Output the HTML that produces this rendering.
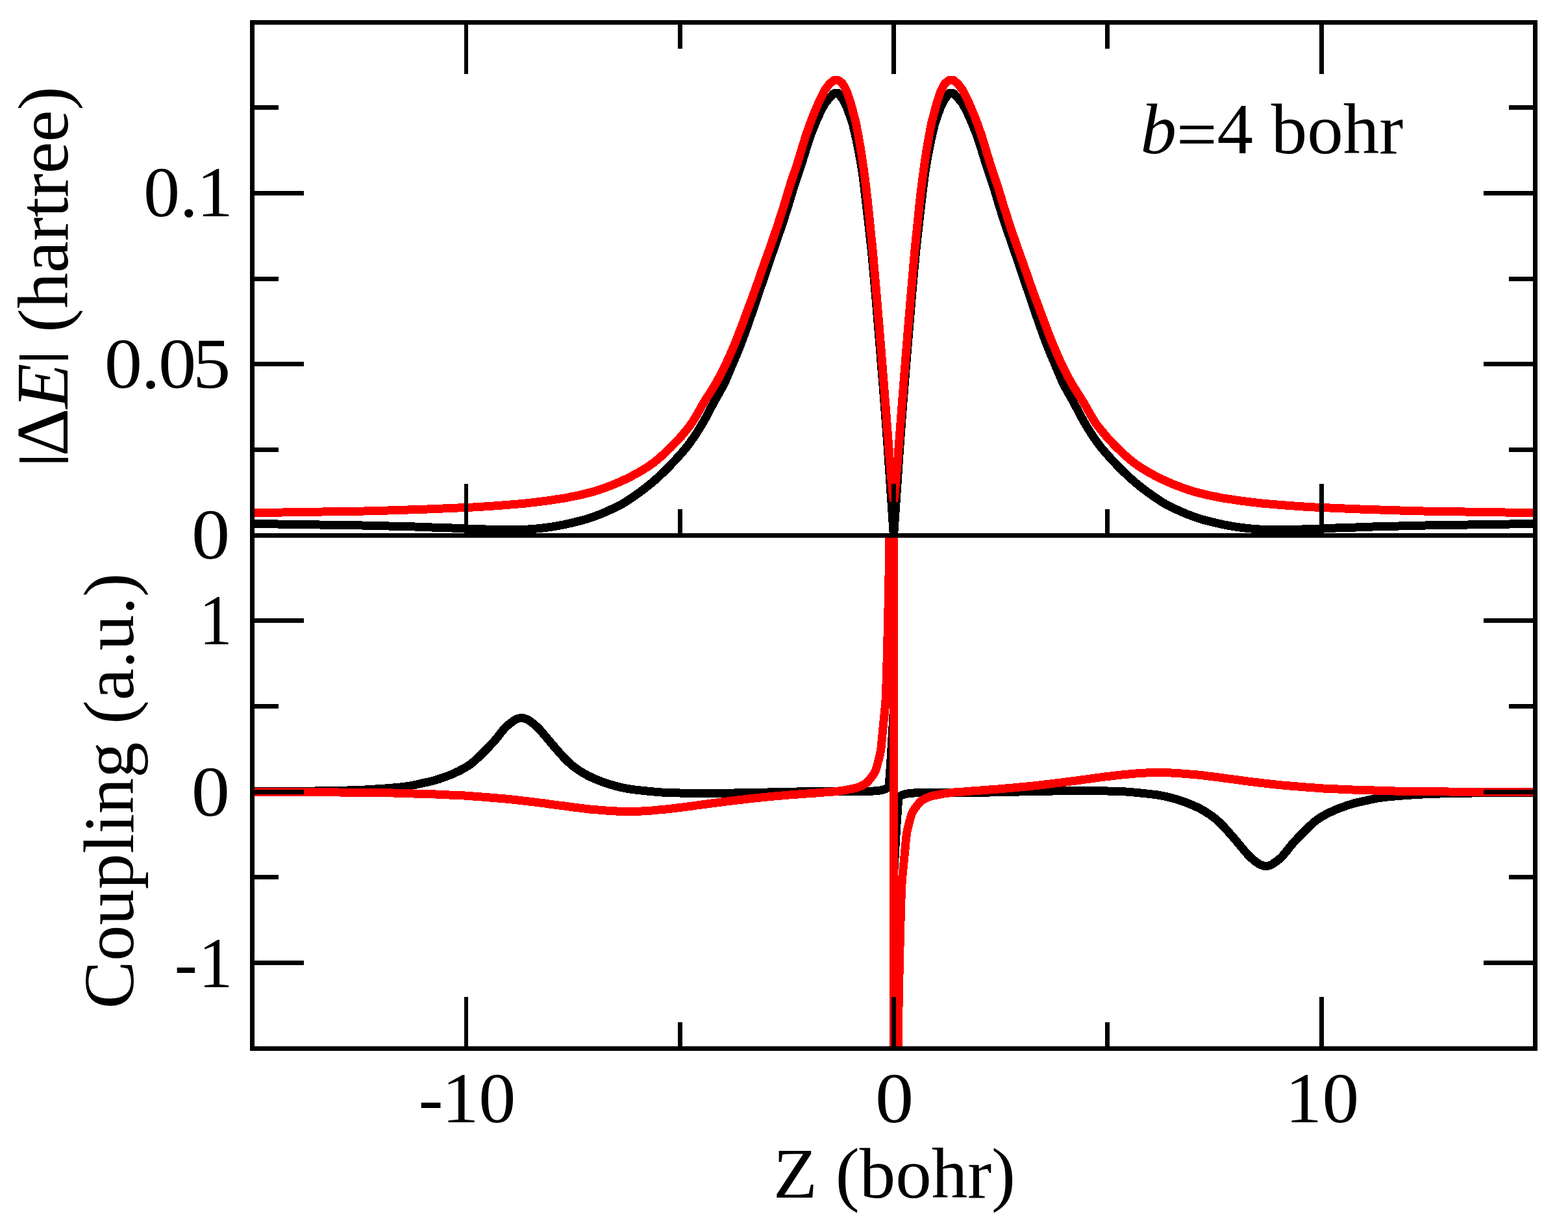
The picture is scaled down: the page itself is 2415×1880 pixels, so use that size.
<!DOCTYPE html>
<html lang="en">
<head>
<meta charset="utf-8">
<title>Energy gap and coupling, b=4 bohr</title>
<style>
html,body{margin:0;padding:0;background:#fff;}
body{width:2415px;height:1880px;overflow:hidden;}
svg{display:block;}
text{font-family:"Liberation Serif",serif;fill:#000;}
.c{fill:none;stroke-width:13;stroke-linejoin:round;stroke-linecap:butt;}
.ax{stroke:#000;stroke-width:7;fill:none;shape-rendering:crispEdges;}
</style>
</head>
<body>
<svg width="2415" height="1880" viewBox="0 0 2415 1880">
<rect width="2415" height="1880" fill="#fff"/>
<defs>
<clipPath id="cu"><rect x="388.5" y="34.5" width="1976.0" height="790.0"/></clipPath>
<clipPath id="cl"><rect x="388.5" y="824.5" width="1976.0" height="790.0"/></clipPath>
</defs>
<g clip-path="url(#cl)" shape-rendering="crispEdges">
<path class="c" stroke="#000" d="M380.00,1218.50C384.00,1218.50 388.00,1218.50 392.00,1218.50C408.00,1218.50 424.00,1218.45 440.00,1218.40C454.93,1218.35 469.87,1218.18 484.80,1218.00C501.47,1217.80 518.14,1217.44 534.80,1217.00C543.90,1216.76 553.01,1216.42 562.10,1216.00C567.67,1215.74 573.24,1215.36 578.80,1215.00C583.57,1214.69 588.34,1214.36 593.10,1214.00C597.07,1213.70 601.04,1213.37 605.00,1213.03C608.57,1212.72 612.14,1212.42 615.70,1212.05C618.47,1211.76 621.24,1211.42 624.00,1211.07C626.40,1210.77 628.81,1210.48 631.20,1210.10C637.11,1209.15 642.94,1207.60 648.80,1206.30C655.11,1204.90 661.48,1203.67 667.70,1202.00C674.04,1200.30 680.34,1198.17 686.50,1195.90C692.87,1193.55 699.22,1190.88 705.30,1187.90C711.75,1184.73 718.30,1181.21 724.10,1177.10C730.90,1172.28 736.93,1165.99 743.00,1160.10C749.50,1153.79 755.75,1147.15 761.80,1140.40C768.29,1133.15 773.59,1124.54 780.60,1118.00C783.45,1115.34 786.74,1112.93 790.00,1110.70C791.93,1109.38 793.86,1107.70 796.00,1107.00C798.26,1106.26 800.87,1105.45 803.30,1105.45C805.87,1105.45 808.61,1106.46 811.00,1107.30C814.22,1108.43 817.18,1110.90 820.00,1113.00C823.56,1115.65 826.87,1118.82 830.00,1122.00C833.55,1125.60 836.71,1129.63 840.00,1133.50C843.37,1137.46 846.63,1141.54 850.00,1145.50C853.29,1149.37 856.63,1153.20 860.00,1157.00C863.29,1160.70 866.54,1164.47 870.00,1168.00C873.21,1171.28 876.50,1174.55 880.00,1177.50C883.17,1180.17 886.57,1182.65 890.00,1185.00C893.24,1187.22 896.59,1189.35 900.00,1191.30C903.25,1193.16 906.61,1194.92 910.00,1196.50C916.52,1199.54 923.21,1202.39 930.00,1204.75C936.55,1207.03 943.26,1209.07 950.00,1210.75C956.60,1212.39 963.28,1213.98 970.00,1215.00C972.65,1215.40 975.33,1215.69 978.00,1216.00C983.19,1216.61 988.40,1217.17 993.60,1217.70C997.73,1218.12 1001.86,1218.53 1006.00,1218.90C1010.33,1219.29 1014.66,1219.77 1019.00,1220.00C1028.98,1220.52 1039.00,1220.85 1049.00,1221.05C1062.66,1221.32 1076.33,1221.60 1090.00,1221.60C1103.50,1221.60 1117.00,1221.25 1130.50,1221.03C1147.33,1220.75 1164.17,1220.39 1181.00,1220.03C1195.33,1219.72 1209.67,1219.23 1224.00,1219.03C1242.66,1218.77 1261.33,1218.50 1280.00,1218.50C1299.00,1218.50 1318.02,1218.50 1337.00,1218.50C1339.84,1218.50 1342.67,1218.21 1345.50,1218.00C1348.77,1217.76 1352.07,1217.47 1355.30,1217.00C1356.85,1216.78 1358.39,1216.40 1359.90,1216.00C1361.29,1215.63 1362.73,1215.20 1364.00,1214.60C1365.18,1214.04 1366.57,1213.24 1367.30,1212.30C1368.06,1211.33 1368.73,1209.82 1369.00,1208.50C1369.37,1206.68 1369.52,1204.70 1369.70,1202.80C1370.09,1198.55 1370.30,1194.27 1370.60,1190.00C1371.07,1183.33 1371.57,1176.67 1372.00,1170.00C1372.83,1157.01 1373.51,1144.00 1374.26,1131.00C1375.01,1118.00 1375.76,1105.00 1376.50,1092.00L1376.50,1347.00C1377.24,1334.00 1377.99,1321.00 1378.74,1308.00C1379.49,1295.00 1380.17,1281.99 1381.00,1269.00C1381.43,1262.33 1381.93,1255.67 1382.40,1249.00C1382.70,1244.73 1382.91,1240.45 1383.30,1236.20C1383.48,1234.30 1383.63,1232.32 1384.00,1230.50C1384.27,1229.18 1384.94,1227.67 1385.70,1226.70C1386.43,1225.76 1387.82,1224.96 1389.00,1224.40C1390.27,1223.80 1391.71,1223.37 1393.10,1223.00C1394.61,1222.60 1396.15,1222.22 1397.70,1222.00C1400.93,1221.53 1404.23,1221.24 1407.50,1221.00C1410.33,1220.79 1413.16,1220.50 1416.00,1220.50C1434.98,1220.50 1454.00,1220.50 1473.00,1220.50C1491.67,1220.50 1510.34,1220.23 1529.00,1219.97C1543.33,1219.77 1557.67,1219.28 1572.00,1218.97C1588.83,1218.61 1605.67,1218.25 1622.50,1217.97C1636.00,1217.75 1649.50,1217.40 1663.00,1217.40C1676.67,1217.40 1690.34,1217.68 1704.00,1217.95C1714.00,1218.15 1724.02,1218.48 1734.00,1219.00C1738.34,1219.23 1742.67,1219.71 1747.00,1220.10C1751.14,1220.47 1755.27,1220.88 1759.40,1221.30C1764.60,1221.83 1769.81,1222.39 1775.00,1223.00C1777.67,1223.31 1780.35,1223.60 1783.00,1224.00C1789.72,1225.02 1796.40,1226.61 1803.00,1228.25C1809.74,1229.93 1816.45,1231.97 1823.00,1234.25C1829.79,1236.61 1836.48,1239.46 1843.00,1242.50C1846.39,1244.08 1849.75,1245.84 1853.00,1247.70C1856.41,1249.65 1859.76,1251.78 1863.00,1254.00C1866.43,1256.35 1869.83,1258.83 1873.00,1261.50C1876.50,1264.45 1879.79,1267.72 1883.00,1271.00C1886.46,1274.53 1889.71,1278.30 1893.00,1282.00C1896.37,1285.80 1899.71,1289.63 1903.00,1293.50C1906.37,1297.46 1909.63,1301.54 1913.00,1305.50C1916.29,1309.37 1919.45,1313.40 1923.00,1317.00C1926.13,1320.18 1929.44,1323.35 1933.00,1326.00C1935.82,1328.10 1938.78,1330.57 1942.00,1331.70C1944.39,1332.54 1947.13,1333.55 1949.70,1333.55C1952.13,1333.55 1954.74,1332.74 1957.00,1332.00C1959.14,1331.30 1961.07,1329.62 1963.00,1328.30C1966.26,1326.07 1969.55,1323.66 1972.40,1321.00C1979.41,1314.46 1984.71,1305.85 1991.20,1298.60C1997.25,1291.85 2003.50,1285.21 2010.00,1278.90C2016.07,1273.01 2022.10,1266.72 2028.90,1261.90C2034.70,1257.79 2041.25,1254.27 2047.70,1251.10C2053.78,1248.12 2060.13,1245.45 2066.50,1243.10C2072.66,1240.83 2078.96,1238.70 2085.30,1237.00C2091.52,1235.33 2097.89,1234.10 2104.20,1232.70C2110.06,1231.40 2115.89,1229.85 2121.80,1228.90C2124.19,1228.52 2126.60,1228.23 2129.00,1227.93C2131.76,1227.58 2134.53,1227.24 2137.30,1226.95C2140.86,1226.58 2144.43,1226.28 2148.00,1225.97C2151.96,1225.63 2155.93,1225.30 2159.90,1225.00C2164.66,1224.64 2169.43,1224.31 2174.20,1224.00C2179.76,1223.64 2185.33,1223.26 2190.90,1223.00C2199.99,1222.58 2209.10,1222.24 2218.20,1222.00C2234.86,1221.56 2251.53,1221.20 2268.20,1221.00C2283.13,1220.82 2298.07,1220.65 2313.00,1220.60C2329.00,1220.55 2345.00,1220.50 2361.00,1220.50C2365.00,1220.50 2369.00,1220.50 2373.00,1220.50"/>
<path class="c" stroke="#f00" d="M380.00,1219.50C384.00,1219.50 388.00,1219.50 392.00,1219.50C414.67,1219.50 437.33,1219.55 460.00,1219.60C480.77,1219.65 501.53,1219.83 522.30,1220.00C549.87,1220.23 577.44,1220.49 605.00,1221.00C615.67,1221.20 626.33,1221.67 637.00,1222.00C648.17,1222.34 659.34,1222.59 670.50,1223.00C677.70,1223.27 684.90,1223.68 692.10,1224.00C699.80,1224.34 707.51,1224.57 715.20,1225.00C719.60,1225.25 724.00,1225.67 728.40,1226.00C732.93,1226.34 737.47,1226.65 742.00,1227.00C746.10,1227.32 750.20,1227.67 754.30,1228.00C758.37,1228.33 762.43,1228.66 766.50,1229.00C770.43,1229.33 774.37,1229.64 778.30,1230.00C781.60,1230.31 784.90,1230.66 788.20,1231.00C791.30,1231.32 794.40,1231.65 797.50,1232.00C800.33,1232.32 803.17,1232.67 806.00,1233.00C808.83,1233.33 811.67,1233.67 814.50,1234.00C817.33,1234.33 820.17,1234.66 823.00,1235.00C825.67,1235.32 828.33,1235.67 831.00,1236.00C833.67,1236.33 836.34,1236.63 839.00,1237.00C841.17,1237.30 843.33,1237.69 845.50,1238.00C848.00,1238.36 850.50,1238.68 853.00,1239.00C855.67,1239.34 858.33,1239.67 861.00,1240.00C863.67,1240.33 866.34,1240.64 869.00,1241.00C871.34,1241.31 873.67,1241.68 876.00,1242.00C878.50,1242.34 881.00,1242.69 883.50,1243.00C886.33,1243.35 889.17,1243.66 892.00,1244.00C894.67,1244.32 897.33,1244.68 900.00,1245.00C902.83,1245.34 905.66,1245.73 908.50,1246.00C912.66,1246.40 916.83,1246.66 921.00,1247.00C925.00,1247.33 929.00,1247.72 933.00,1248.00C938.66,1248.40 944.33,1248.84 950.00,1249.03C956.16,1249.23 962.33,1249.45 968.50,1249.45C974.67,1249.45 980.84,1249.23 987.00,1249.03C992.57,1248.85 998.14,1248.45 1003.70,1248.03C1007.07,1247.77 1010.43,1247.35 1013.80,1247.03C1017.56,1246.68 1021.34,1246.40 1025.10,1246.03C1028.07,1245.74 1031.03,1245.38 1034.00,1245.04C1036.80,1244.72 1039.60,1244.38 1042.40,1244.04C1045.17,1243.71 1047.93,1243.38 1050.70,1243.04C1053.30,1242.72 1055.90,1242.38 1058.50,1242.05C1061.07,1241.72 1063.64,1241.41 1066.20,1241.05C1068.37,1240.74 1070.53,1240.35 1072.70,1240.05C1075.30,1239.69 1077.90,1239.39 1080.50,1239.05C1083.07,1238.72 1085.63,1238.39 1088.20,1238.05C1090.60,1237.73 1093.00,1237.37 1095.40,1237.05C1097.97,1236.71 1100.53,1236.38 1103.10,1236.05C1105.67,1235.72 1108.23,1235.38 1110.80,1235.05C1113.40,1234.71 1116.00,1234.36 1118.60,1234.05C1121.56,1233.69 1124.54,1233.41 1127.50,1233.05C1130.07,1232.74 1132.63,1232.36 1135.20,1232.05C1138.20,1231.69 1141.20,1231.41 1144.20,1231.05C1146.77,1230.74 1149.33,1230.36 1151.90,1230.05C1154.86,1229.69 1157.83,1229.35 1160.80,1229.05C1164.46,1228.68 1168.13,1228.38 1171.80,1228.03C1175.17,1227.71 1178.53,1227.36 1181.90,1227.03C1185.27,1226.70 1188.63,1226.34 1192.00,1226.03C1195.96,1225.67 1199.93,1225.38 1203.90,1225.03C1207.57,1224.71 1211.23,1224.33 1214.90,1224.03C1219.53,1223.66 1224.17,1223.37 1228.80,1223.03C1233.20,1222.71 1237.60,1222.35 1242.00,1222.03C1246.67,1221.69 1251.34,1221.39 1256.00,1221.04C1260.13,1220.73 1264.26,1220.34 1268.40,1220.04C1273.43,1219.67 1278.48,1219.49 1283.50,1219.04C1286.11,1218.81 1288.70,1218.38 1291.30,1218.05C1293.87,1217.72 1296.45,1217.47 1299.00,1217.07C1300.63,1216.81 1302.23,1216.41 1303.85,1216.10C1305.53,1215.77 1307.22,1215.47 1308.90,1215.15C1310.60,1214.83 1312.31,1214.56 1314.00,1214.20C1316.32,1213.71 1318.65,1213.15 1320.90,1212.45C1323.00,1211.80 1325.10,1210.95 1327.07,1210.00C1329.64,1208.76 1332.30,1207.22 1334.45,1205.45C1337.71,1202.77 1340.36,1198.97 1343.00,1195.50C1344.34,1193.73 1345.75,1191.93 1346.80,1190.00C1347.86,1188.05 1348.78,1185.92 1349.50,1183.80C1350.39,1181.20 1351.01,1178.48 1351.70,1175.80C1353.44,1169.00 1355.49,1162.21 1356.50,1155.30C1357.40,1149.10 1357.87,1142.77 1358.50,1136.50C1359.13,1130.20 1359.68,1123.90 1360.30,1117.60C1360.91,1111.33 1361.60,1105.07 1362.20,1098.80C1362.80,1092.54 1363.56,1086.28 1363.90,1080.00C1365.11,1057.71 1365.62,1035.34 1366.20,1013.00C1367.80,951.35 1369.27,889.68 1369.80,828.00L1376.50,480.00L1376.50,1959.00L1383.20,1611.00C1383.73,1549.32 1385.20,1487.65 1386.80,1426.00C1387.38,1403.66 1387.89,1381.29 1389.10,1359.00C1389.44,1352.72 1390.20,1346.46 1390.80,1340.20C1391.40,1333.93 1392.09,1327.67 1392.70,1321.40C1393.32,1315.10 1393.87,1308.80 1394.50,1302.50C1395.13,1296.23 1395.60,1289.90 1396.50,1283.70C1397.51,1276.79 1399.56,1270.00 1401.30,1263.20C1401.99,1260.52 1402.61,1257.80 1403.50,1255.20C1404.22,1253.08 1405.14,1250.95 1406.20,1249.00C1407.25,1247.07 1408.66,1245.27 1410.00,1243.50C1412.64,1240.03 1415.29,1236.23 1418.55,1233.55C1420.70,1231.78 1423.36,1230.24 1425.93,1229.00C1427.90,1228.05 1430.00,1227.20 1432.10,1226.55C1434.35,1225.85 1436.68,1225.29 1439.00,1224.80C1440.69,1224.44 1442.40,1224.17 1444.10,1223.85C1445.78,1223.53 1447.47,1223.23 1449.15,1222.90C1450.77,1222.59 1452.37,1222.19 1454.00,1221.93C1456.55,1221.53 1459.13,1221.28 1461.70,1220.95C1464.30,1220.62 1466.89,1220.19 1469.50,1219.96C1474.52,1219.51 1479.57,1219.33 1484.60,1218.96C1488.74,1218.66 1492.87,1218.27 1497.00,1217.96C1501.66,1217.61 1506.33,1217.31 1511.00,1216.97C1515.40,1216.65 1519.80,1216.29 1524.20,1215.97C1528.83,1215.63 1533.47,1215.34 1538.10,1214.97C1541.77,1214.67 1545.43,1214.29 1549.10,1213.97C1553.07,1213.62 1557.04,1213.33 1561.00,1212.97C1564.37,1212.66 1567.73,1212.30 1571.10,1211.97C1574.47,1211.64 1577.83,1211.29 1581.20,1210.97C1584.87,1210.62 1588.54,1210.32 1592.20,1209.95C1595.17,1209.65 1598.14,1209.31 1601.10,1208.95C1603.67,1208.64 1606.23,1208.26 1608.80,1207.95C1611.80,1207.59 1614.80,1207.31 1617.80,1206.95C1620.37,1206.64 1622.93,1206.26 1625.50,1205.95C1628.46,1205.59 1631.44,1205.31 1634.40,1204.95C1637.00,1204.64 1639.60,1204.29 1642.20,1203.95C1644.77,1203.62 1647.33,1203.28 1649.90,1202.95C1652.47,1202.62 1655.03,1202.29 1657.60,1201.95C1660.00,1201.63 1662.40,1201.27 1664.80,1200.95C1667.37,1200.61 1669.93,1200.28 1672.50,1199.95C1675.10,1199.61 1677.70,1199.31 1680.30,1198.95C1682.47,1198.65 1684.63,1198.26 1686.80,1197.95C1689.36,1197.59 1691.93,1197.28 1694.50,1196.95C1697.10,1196.62 1699.70,1196.28 1702.30,1195.96C1705.07,1195.62 1707.83,1195.29 1710.60,1194.96C1713.40,1194.62 1716.20,1194.28 1719.00,1193.96C1721.97,1193.62 1724.93,1193.26 1727.90,1192.97C1731.66,1192.60 1735.44,1192.32 1739.20,1191.97C1742.57,1191.65 1745.93,1191.23 1749.30,1190.97C1754.86,1190.55 1760.43,1190.15 1766.00,1189.97C1772.16,1189.77 1778.33,1189.55 1784.50,1189.55C1790.67,1189.55 1796.84,1189.77 1803.00,1189.97C1808.67,1190.16 1814.34,1190.60 1820.00,1191.00C1824.00,1191.28 1828.00,1191.67 1832.00,1192.00C1836.17,1192.34 1840.34,1192.60 1844.50,1193.00C1847.34,1193.27 1850.17,1193.66 1853.00,1194.00C1855.67,1194.32 1858.33,1194.68 1861.00,1195.00C1863.83,1195.34 1866.67,1195.65 1869.50,1196.00C1872.00,1196.31 1874.50,1196.66 1877.00,1197.00C1879.33,1197.32 1881.66,1197.69 1884.00,1198.00C1886.66,1198.36 1889.33,1198.67 1892.00,1199.00C1894.67,1199.33 1897.33,1199.66 1900.00,1200.00C1902.50,1200.32 1905.00,1200.64 1907.50,1201.00C1909.67,1201.31 1911.83,1201.70 1914.00,1202.00C1916.66,1202.37 1919.33,1202.67 1922.00,1203.00C1924.67,1203.33 1927.33,1203.68 1930.00,1204.00C1932.83,1204.34 1935.67,1204.67 1938.50,1205.00C1941.33,1205.33 1944.17,1205.67 1947.00,1206.00C1949.83,1206.33 1952.67,1206.68 1955.50,1207.00C1958.60,1207.35 1961.70,1207.68 1964.80,1208.00C1968.10,1208.34 1971.40,1208.69 1974.70,1209.00C1978.63,1209.36 1982.57,1209.67 1986.50,1210.00C1990.57,1210.34 1994.63,1210.67 1998.70,1211.00C2002.80,1211.33 2006.90,1211.68 2011.00,1212.00C2015.53,1212.35 2020.07,1212.66 2024.60,1213.00C2029.00,1213.33 2033.40,1213.75 2037.80,1214.00C2045.49,1214.43 2053.20,1214.66 2060.90,1215.00C2068.10,1215.32 2075.30,1215.73 2082.50,1216.00C2093.66,1216.41 2104.83,1216.66 2116.00,1217.00C2126.67,1217.33 2137.33,1217.80 2148.00,1218.00C2175.56,1218.51 2203.13,1218.77 2230.70,1219.00C2251.47,1219.17 2272.23,1219.35 2293.00,1219.40C2315.67,1219.45 2338.33,1219.50 2361.00,1219.50C2365.00,1219.50 2369.00,1219.50 2373.00,1219.50"/>
</g>
<g clip-path="url(#cu)" shape-rendering="crispEdges">
<path class="c" stroke="#000" d="M380.00,806.20C384.00,806.27 388.00,806.33 392.00,806.40C403.87,806.60 415.73,806.81 427.60,807.00C448.97,807.35 470.33,807.67 491.70,808.00C513.70,808.34 535.70,808.58 557.70,809.00C571.43,809.26 585.17,809.66 598.90,810.00C612.33,810.33 625.77,810.59 639.20,811.00C647.74,811.26 656.27,811.70 664.80,812.00C675.00,812.36 685.20,812.59 695.40,813.00C701.94,813.26 708.46,813.75 715.00,814.00C726.09,814.43 737.20,814.74 748.30,815.00C758.87,815.24 769.43,815.60 780.00,815.60C790.93,815.60 801.88,815.35 812.80,815.00C817.20,814.86 821.61,814.41 826.00,814.02C829.07,813.75 832.14,813.39 835.20,813.04C837.87,812.73 840.54,812.41 843.20,812.05C845.40,811.75 847.60,811.41 849.80,811.07C851.87,810.75 853.94,810.43 856.00,810.08C857.84,809.77 859.67,809.43 861.50,809.10C863.33,808.78 865.17,808.49 867.00,808.13C868.47,807.84 869.93,807.48 871.40,807.16C874.33,806.51 877.27,805.89 880.20,805.20C882.91,804.57 885.60,803.88 888.30,803.20C890.87,802.55 893.43,801.87 896.00,801.20C898.43,800.57 900.89,800.00 903.30,799.30C905.28,798.73 907.25,798.07 909.20,797.40C911.04,796.77 912.87,796.06 914.70,795.40C916.50,794.75 918.30,794.10 920.10,793.45C921.83,792.82 923.59,792.24 925.30,791.55C926.79,790.95 928.24,790.26 929.70,789.60C931.17,788.94 932.63,788.25 934.10,787.60C935.56,786.95 937.05,786.36 938.50,785.70C939.84,785.09 941.17,784.45 942.50,783.80C943.84,783.15 945.17,782.47 946.50,781.80C947.83,781.13 949.16,780.46 950.50,779.80C951.86,779.13 953.24,778.47 954.60,777.80C955.94,777.14 957.30,776.51 958.60,775.80C961.69,774.11 964.67,772.15 967.60,770.20C980.60,761.54 993.50,752.29 1005.30,742.20C1021.20,728.60 1036.16,713.19 1050.00,697.40C1054.87,691.84 1059.58,686.00 1063.90,680.00C1070.69,670.59 1076.93,660.63 1082.80,650.60C1088.64,640.64 1093.68,630.17 1099.20,620.00C1104.75,609.77 1110.98,599.85 1116.00,589.40C1119.42,582.29 1122.31,574.89 1125.40,567.60C1130.76,554.94 1136.26,542.32 1141.20,529.50C1147.13,514.12 1152.47,498.48 1157.90,482.90C1162.26,470.40 1166.45,457.84 1170.70,445.30C1174.95,432.74 1179.11,420.15 1183.40,407.60C1187.74,394.88 1192.28,382.23 1196.60,369.50C1201.86,354.00 1207.16,338.50 1212.10,322.90C1216.05,310.42 1219.55,297.78 1223.50,285.30C1227.50,272.68 1231.92,260.19 1236.00,247.60C1240.05,235.09 1243.48,222.35 1247.90,210.00C1250.32,203.25 1253.06,196.60 1255.90,190.00L1257.90,185.00L1264.50,170.50L1271.10,158.50L1277.70,150.80L1284.30,143.70L1290.90,143.40L1297.50,152.00L1304.05,164.50L1310.60,182.50L1313.15,190.00C1316.22,202.48 1319.03,215.01 1321.50,227.60C1323.95,240.11 1326.26,252.69 1328.10,265.30C1329.92,277.79 1331.29,290.36 1332.80,302.90C1334.67,318.42 1336.45,333.96 1338.20,349.50C1339.63,362.20 1341.12,374.89 1342.40,387.60C1343.67,400.16 1344.77,412.73 1345.90,425.30C1347.03,437.83 1348.13,450.36 1349.20,462.90C1350.51,478.26 1351.73,493.63 1353.00,509.00C1355.50,539.33 1358.10,569.66 1360.50,600.00C1362.61,626.66 1364.67,653.33 1366.60,680.00C1370.11,728.48 1373.46,776.98 1376.50,825.50M1376.50,825.50C1379.54,776.98 1382.89,728.48 1386.40,680.00C1388.33,653.33 1390.39,626.66 1392.50,600.00C1394.90,569.66 1397.50,539.33 1400.00,509.00C1401.27,493.63 1402.49,478.26 1403.80,462.90C1404.87,450.36 1405.97,437.83 1407.10,425.30C1408.23,412.73 1409.33,400.16 1410.60,387.60C1411.88,374.89 1413.37,362.20 1414.80,349.50C1416.55,333.96 1418.33,318.42 1420.20,302.90C1421.71,290.36 1423.08,277.79 1424.90,265.30C1426.74,252.69 1429.05,240.11 1431.50,227.60C1433.97,215.01 1436.78,202.48 1439.85,190.00L1442.40,182.50L1448.95,164.50L1455.50,152.00L1462.10,143.40L1468.70,143.70L1475.30,150.80L1481.90,158.50L1488.50,170.50L1495.10,185.00L1497.10,190.00C1499.94,196.60 1502.68,203.25 1505.10,210.00C1509.52,222.35 1512.95,235.09 1517.00,247.60C1521.08,260.19 1525.50,272.68 1529.50,285.30C1533.45,297.78 1536.95,310.42 1540.90,322.90C1545.84,338.50 1551.14,354.00 1556.40,369.50C1560.72,382.23 1565.26,394.88 1569.60,407.60C1573.89,420.15 1578.05,432.74 1582.30,445.30C1586.55,457.84 1590.74,470.40 1595.10,482.90C1600.53,498.48 1605.87,514.12 1611.80,529.50C1616.74,542.32 1622.24,554.94 1627.60,567.60C1630.69,574.89 1633.58,582.29 1637.00,589.40C1642.02,599.85 1648.25,609.77 1653.80,620.00C1659.32,630.17 1664.36,640.64 1670.20,650.60C1676.07,660.63 1682.31,670.59 1689.10,680.00C1693.42,686.00 1698.13,691.84 1703.00,697.40C1716.84,713.19 1731.80,728.60 1747.70,742.20C1759.50,752.29 1772.40,761.54 1785.40,770.20C1788.33,772.15 1791.31,774.11 1794.40,775.80C1795.70,776.51 1797.06,777.14 1798.40,777.80C1799.76,778.47 1801.14,779.13 1802.50,779.80C1803.84,780.46 1805.17,781.13 1806.50,781.80C1807.83,782.47 1809.16,783.15 1810.50,783.80C1811.83,784.45 1813.16,785.09 1814.50,785.70C1815.95,786.36 1817.44,786.95 1818.90,787.60C1820.37,788.25 1821.83,788.94 1823.30,789.60C1824.76,790.26 1826.21,790.95 1827.70,791.55C1829.41,792.24 1831.17,792.82 1832.90,793.45C1834.70,794.10 1836.50,794.75 1838.30,795.40C1840.13,796.06 1841.96,796.77 1843.80,797.40C1845.75,798.07 1847.72,798.73 1849.70,799.30C1852.11,800.00 1854.57,800.57 1857.00,801.20C1859.57,801.87 1862.13,802.55 1864.70,803.20C1867.40,803.88 1870.09,804.57 1872.80,805.20C1875.73,805.89 1878.67,806.51 1881.60,807.16C1883.07,807.48 1884.53,807.84 1886.00,808.13C1887.83,808.49 1889.67,808.78 1891.50,809.10C1893.33,809.43 1895.16,809.77 1897.00,810.08C1899.06,810.43 1901.13,810.75 1903.20,811.07C1905.40,811.41 1907.60,811.75 1909.80,812.05C1912.46,812.41 1915.13,812.73 1917.80,813.04C1920.86,813.39 1923.93,813.75 1927.00,814.02C1931.39,814.41 1935.80,814.86 1940.20,815.00C1951.12,815.35 1962.07,815.60 1973.00,815.60C1983.57,815.60 1994.13,815.24 2004.70,815.00C2015.80,814.74 2026.91,814.43 2038.00,814.00C2044.54,813.75 2051.06,813.26 2057.60,813.00C2067.80,812.59 2078.00,812.36 2088.20,812.00C2096.73,811.70 2105.26,811.26 2113.80,811.00C2127.23,810.59 2140.67,810.33 2154.10,810.00C2167.83,809.66 2181.57,809.26 2195.30,809.00C2217.30,808.58 2239.30,808.34 2261.30,808.00C2282.67,807.67 2304.03,807.35 2325.40,807.00C2337.27,806.81 2349.13,806.60 2361.00,806.40C2365.00,806.33 2369.00,806.27 2373.00,806.20"/>
<path class="c" stroke="#f00" d="M380.00,789.75C384.00,789.70 388.00,789.65 392.00,789.60C406.30,789.41 420.60,789.21 434.90,789.00C455.67,788.69 476.43,788.33 497.20,788.00C518.57,787.66 539.94,787.44 561.30,787.00C573.20,786.75 585.10,786.36 597.00,786.00C607.40,785.69 617.80,785.34 628.20,785.00C638.27,784.67 648.34,784.37 658.40,784.00C666.33,783.70 674.27,783.34 682.20,783.00C689.83,782.67 697.47,782.33 705.10,782.00C712.73,781.67 720.37,781.38 728.00,781.00C733.80,780.71 739.60,780.36 745.40,780.00C750.27,779.69 755.14,779.36 760.00,779.00C776.28,777.81 792.57,776.65 808.80,775.05C814.54,774.49 820.27,773.74 826.00,773.05C831.37,772.41 836.74,771.80 842.10,771.06C846.41,770.47 850.70,769.71 855.00,769.07C859.63,768.39 864.29,767.89 868.90,767.10C872.08,766.56 875.23,765.75 878.40,765.13C881.93,764.44 885.49,763.90 889.00,763.16C891.71,762.59 894.40,761.86 897.10,761.20C899.77,760.54 902.43,759.86 905.10,759.20C907.80,758.53 910.52,757.94 913.20,757.20C918.86,755.63 924.48,753.75 930.00,751.75C942.76,747.13 955.50,741.86 967.60,735.85C980.61,729.39 993.68,721.89 1005.30,713.40C1018.40,703.83 1030.32,691.79 1041.75,680.00C1044.61,677.05 1047.34,673.94 1050.00,670.80C1055.55,664.26 1061.19,657.64 1066.00,650.60C1072.62,640.92 1077.79,630.11 1083.90,620.00C1090.11,609.71 1097.04,599.82 1103.00,589.40C1107.08,582.27 1110.99,574.98 1114.60,567.60C1120.71,555.13 1126.30,542.34 1131.60,529.50C1137.94,514.15 1143.55,498.47 1149.40,482.90C1154.10,470.39 1158.79,457.87 1163.30,445.30C1167.80,432.78 1172.03,420.15 1176.45,407.60C1180.93,394.89 1185.63,382.25 1190.00,369.50C1195.31,354.03 1200.47,338.50 1205.40,322.90C1209.34,310.41 1212.85,297.78 1216.80,285.30C1220.80,272.68 1225.29,260.21 1229.30,247.60C1233.27,235.11 1236.70,222.44 1240.80,210.00C1243.01,203.29 1245.40,196.63 1247.85,190.00L1251.30,180.80L1257.90,164.70L1264.50,150.20L1271.10,137.70L1277.70,128.90L1284.30,123.60L1290.90,123.40L1297.50,128.30L1304.05,140.20L1310.63,160.00L1317.20,185.00L1318.45,190.00C1320.94,202.50 1323.24,215.03 1325.30,227.60C1327.35,240.13 1329.19,252.71 1330.90,265.30C1332.60,277.81 1334.18,290.35 1335.60,302.90C1337.36,318.41 1338.81,333.97 1340.40,349.50C1341.70,362.20 1343.10,374.89 1344.30,387.60C1345.48,400.16 1346.51,412.73 1347.60,425.30C1348.69,437.83 1349.78,450.37 1350.85,462.90C1352.16,478.26 1353.44,493.63 1354.70,509.00C1357.19,539.33 1359.61,569.66 1362.00,600.00C1364.24,628.33 1366.47,656.66 1368.60,685.00C1369.08,691.33 1369.49,697.67 1370.00,704.00C1371.85,726.86 1373.96,749.70 1376.50,772.50M1376.50,772.50C1379.04,749.70 1381.15,726.86 1383.00,704.00C1383.51,697.67 1383.92,691.33 1384.40,685.00C1386.53,656.66 1388.76,628.33 1391.00,600.00C1393.39,569.66 1395.81,539.33 1398.30,509.00C1399.56,493.63 1400.84,478.26 1402.15,462.90C1403.22,450.37 1404.31,437.83 1405.40,425.30C1406.49,412.73 1407.52,400.16 1408.70,387.60C1409.90,374.89 1411.30,362.20 1412.60,349.50C1414.19,333.97 1415.64,318.41 1417.40,302.90C1418.82,290.35 1420.40,277.81 1422.10,265.30C1423.81,252.71 1425.65,240.13 1427.70,227.60C1429.76,215.03 1432.06,202.50 1434.55,190.00L1435.80,185.00L1442.37,160.00L1448.95,140.20L1455.50,128.30L1462.10,123.40L1468.70,123.60L1475.30,128.90L1481.90,137.70L1488.50,150.20L1495.10,164.70L1501.70,180.80L1505.15,190.00C1507.60,196.63 1509.99,203.29 1512.20,210.00C1516.30,222.44 1519.73,235.11 1523.70,247.60C1527.71,260.21 1532.20,272.68 1536.20,285.30C1540.15,297.78 1543.66,310.41 1547.60,322.90C1552.53,338.50 1557.69,354.03 1563.00,369.50C1567.37,382.25 1572.07,394.89 1576.55,407.60C1580.97,420.15 1585.20,432.78 1589.70,445.30C1594.21,457.87 1598.90,470.39 1603.60,482.90C1609.45,498.47 1615.06,514.15 1621.40,529.50C1626.70,542.34 1632.29,555.13 1638.40,567.60C1642.01,574.98 1645.92,582.27 1650.00,589.40C1655.96,599.82 1662.89,609.71 1669.10,620.00C1675.21,630.11 1680.38,640.92 1687.00,650.60C1691.81,657.64 1697.45,664.26 1703.00,670.80C1705.66,673.94 1708.39,677.05 1711.25,680.00C1722.68,691.79 1734.60,703.83 1747.70,713.40C1759.32,721.89 1772.39,729.39 1785.40,735.85C1797.50,741.86 1810.24,747.13 1823.00,751.75C1828.52,753.75 1834.14,755.63 1839.80,757.20C1842.48,757.94 1845.20,758.53 1847.90,759.20C1850.57,759.86 1853.23,760.54 1855.90,761.20C1858.60,761.86 1861.29,762.59 1864.00,763.16C1867.51,763.90 1871.07,764.44 1874.60,765.13C1877.77,765.75 1880.92,766.56 1884.10,767.10C1888.71,767.89 1893.37,768.39 1898.00,769.07C1902.30,769.71 1906.59,770.47 1910.90,771.06C1916.26,771.80 1921.63,772.41 1927.00,773.05C1932.73,773.74 1938.46,774.49 1944.20,775.05C1960.43,776.65 1976.72,777.81 1993.00,779.00C1997.86,779.36 2002.73,779.69 2007.60,780.00C2013.40,780.36 2019.20,780.71 2025.00,781.00C2032.63,781.38 2040.27,781.67 2047.90,782.00C2055.53,782.33 2063.17,782.67 2070.80,783.00C2078.73,783.34 2086.67,783.70 2094.60,784.00C2104.66,784.37 2114.73,784.67 2124.80,785.00C2135.20,785.34 2145.60,785.69 2156.00,786.00C2167.90,786.36 2179.80,786.75 2191.70,787.00C2213.06,787.44 2234.43,787.66 2255.80,788.00C2276.57,788.33 2297.33,788.69 2318.10,789.00C2332.40,789.21 2346.70,789.41 2361.00,789.60C2365.00,789.65 2369.00,789.70 2373.00,789.75"/>
</g>
<path fill="#000" shape-rendering="crispEdges" d="M385,31H2368V38H385ZM385,821H2368V828H385ZM385,1611H2368V1618H385ZM385,31H392V1618H385ZM2361,31H2368V1618H2361ZM388,689H429V696H388ZM2324,689H2365V696H2324ZM388,557H468V564H388ZM2285,557H2365V564H2285ZM388,426H429V433H388ZM2324,426H2365V433H2324ZM388,294H468V301H388ZM2285,294H2365V301H2285ZM388,162H429V169H388ZM2324,162H2365V169H2324ZM388,1479H468V1486H388ZM2285,1479H2365V1486H2285ZM388,1347H429V1354H388ZM2324,1347H2365V1354H2324ZM388,1216H468V1223H388ZM2285,1216H2365V1223H2285ZM388,1084H429V1091H388ZM2324,1084H2365V1091H2324ZM388,952H468V959H388ZM2285,952H2365V959H2285ZM715,34H721V114H715ZM715,745H721V825H715ZM715,1535H721V1615H715ZM1044,34H1051V75H1044ZM1044,784H1051V825H1044ZM1044,1574H1051V1615H1044ZM1373,34H1380V114H1373ZM1373,745H1380V825H1373ZM1373,1535H1380V1615H1373ZM1702,34H1709V75H1702ZM1702,784H1709V825H1702ZM1702,1574H1709V1615H1702ZM2032,34H2039V114H2032ZM2032,745H2039V825H2032ZM2032,1535H2039V1615H2032Z"/>
<g font-size="111">
<text transform="scale(1.01,1)" x="218.88 274.05 300.01" y="333.20">0.1</text>
<text transform="scale(1.05,1)" x="153.11 207.27 232.44 282.91" y="596.80">0.05</text>
<text transform="scale(1.066,1)" x="276.66" y="860.30">0</text>
<text transform="scale(0.92,1)" x="333.48" y="992.30">1</text>
<text transform="scale(1.066,1)" x="276.52" y="1255.80">0</text>
<text transform="scale(0.95,1)" x="282.99 321.76" y="1519.60">-1</text>
<text transform="scale(1.03,1)" x="625.69 660.57 715.75" y="1727.90">-10</text>
<text transform="scale(1.066,1)" x="1264.46" y="1727.90">0</text>
<text transform="scale(1.02,1)" x="1940.80 1996.47" y="1727.90">10</text>
<text x="1377.60" y="1844.40" text-anchor="middle">Z (bohr)</text>
<text x="1756.40" y="235.80" text-anchor="start"><tspan font-style="italic">b</tspan><tspan dy="8.3">=</tspan><tspan dy="-8.3">4 bohr</tspan></text>
<text transform="translate(205.00,1553.20) rotate(-90)" font-size="110.3">Coupling (a.u.)</text>
<text transform="translate(104.00,719.60) rotate(-90)" font-size="110"><tspan x="0.79" dy="-16" font-family="'Liberation Sans',sans-serif" font-size="80">|</tspan><tspan x="17.2" dy="16" font-size="115">Δ</tspan><tspan x="90.47" font-style="italic" font-size="114">E</tspan><tspan x="158.84" dy="-16" font-family="'Liberation Sans',sans-serif" font-size="80">|</tspan><tspan x="180.46" dy="16"> (hartree)</tspan></text>
</g>
</svg>
</body>
</html>
